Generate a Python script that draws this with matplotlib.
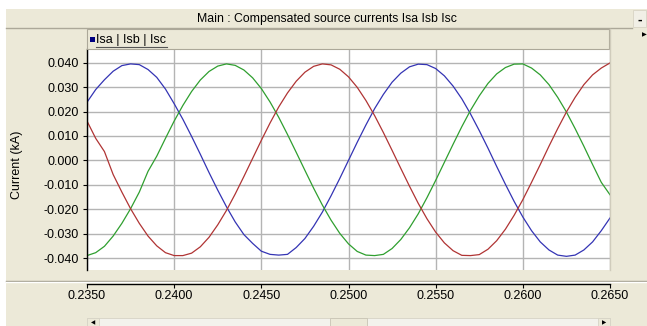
import matplotlib
matplotlib.use("Agg")
import matplotlib.pyplot as plt
from matplotlib.patches import Rectangle
from matplotlib.lines import Line2D

# ---- data ----
time_s = [0.2350, 0.2355, 0.2360, 0.2365, 0.2370, 0.2375, 0.2380, 0.2385, 0.2390, 0.2395,
          0.2400, 0.2405, 0.2410, 0.2415, 0.2420, 0.2425, 0.2430, 0.2435, 0.2440, 0.2445,
          0.2450, 0.2455, 0.2460, 0.2465, 0.2470, 0.2475, 0.2480, 0.2485, 0.2490, 0.2495,
          0.2500, 0.2505, 0.2510, 0.2515, 0.2520, 0.2525, 0.2530, 0.2535, 0.2540, 0.2545,
          0.2550, 0.2555, 0.2560, 0.2565, 0.2570, 0.2575, 0.2580, 0.2585, 0.2590, 0.2595,
          0.2600, 0.2605, 0.2610, 0.2615, 0.2620, 0.2625, 0.2630, 0.2635, 0.2640, 0.2645,
          0.2650]

isa = [0.0238, 0.0290, 0.0330, 0.0365, 0.0388, 0.0395, 0.0392, 0.0372, 0.0340, 0.0292,
       0.0232, 0.0168, 0.0098, 0.0025, -0.0050, -0.0122, -0.0190, -0.0252, -0.0304, -0.0340,
       -0.0372, -0.0385, -0.0388, -0.0385, -0.0357, -0.0320, -0.0270, -0.0212, -0.0145, -0.0074,
       0.0000, 0.0074, 0.0145, 0.0212, 0.0270, 0.0320, 0.0357, 0.0383, 0.0394, 0.0392,
       0.0376, 0.0346, 0.0304, 0.0252, 0.0190, 0.0122, 0.0050, -0.0025, -0.0098, -0.0168,
       -0.0232, -0.0288, -0.0334, -0.0367, -0.0388, -0.0393, -0.0388, -0.0367, -0.0334, -0.0288,
       -0.0236]

isb = [-0.0390, -0.0378, -0.0352, -0.0310, -0.0258, -0.0198, -0.0130, -0.0045, 0.0017, 0.0090,
       0.0161, 0.0225, 0.0282, 0.0329, 0.0364, 0.0386, 0.0395, 0.0389, 0.0370, 0.0338,
       0.0294, 0.0239, 0.0176, 0.0106, 0.0033, -0.0041, -0.0114, -0.0183, -0.0245, -0.0299,
       -0.0342, -0.0373, -0.0388, -0.0390, -0.0385, -0.0361, -0.0324, -0.0276, -0.0219, -0.0153,
       -0.0082, -0.0008, 0.0066, 0.0138, 0.0205, 0.0264, 0.0315, 0.0354, 0.0380, 0.0394,
       0.0395, 0.0378, 0.0350, 0.0310, 0.0258, 0.0198, 0.0130, 0.0058, -0.0017, -0.0090,
       -0.0141]

isc = [0.0161, 0.0090, 0.0036, -0.0058, -0.0130, -0.0198, -0.0258, -0.0310, -0.0350, -0.0378,
       -0.0390, -0.0390, -0.0380, -0.0354, -0.0315, -0.0264, -0.0205, -0.0138, -0.0066, 0.0008,
       0.0082, 0.0153, 0.0219, 0.0276, 0.0324, 0.0361, 0.0385, 0.0395, 0.0391, 0.0373,
       0.0342, 0.0299, 0.0245, 0.0183, 0.0114, 0.0041, -0.0033, -0.0106, -0.0176, -0.0239,
       -0.0294, -0.0338, -0.0370, -0.0389, -0.0390, -0.0386, -0.0364, -0.0329, -0.0282, -0.0225,
       -0.0161, -0.0090, -0.0017, 0.0058, 0.0130, 0.0198, 0.0258, 0.0310, 0.0350, 0.0378,
       0.0399]

x_ticks = [0.2350, 0.2400, 0.2450, 0.2500, 0.2550, 0.2600, 0.2650]
x_ticklabels = ["0.2350", "0.2400", "0.2450", "0.2500", "0.2550", "0.2600", "0.2650"]
y_ticks = [0.040, 0.030, 0.020, 0.010, 0.000, -0.010, -0.020, -0.030, -0.040]
y_ticklabels = ["0.040", "0.030", "0.020", "0.010", "0.000", "-0.010", "-0.020", "-0.030", "-0.040"]

title = "Main : Compensated source currents Isa Isb Isc"
legend_label = "Isa | Isb | Isc"
ylabel = "Current (kA)"

# ---- layout ----
W, H = 647, 326
BEIGE = "#ece9d8"
EDGE = "#aca899"
plt.rcParams['font.family'] = ['Liberation Sans', 'DejaVu Sans']

fig = plt.figure(figsize=(W / 100, H / 100), dpi=100, facecolor=BEIGE)


def fx(x):
    return x / W


def fy(y):
    return 1 - y / H


def rect(x0, y0, x1, y1, **kw):
    r = Rectangle((fx(x0), fy(y1)), fx(x1) - fx(x0), fy(y0) - fy(y1),
                  transform=fig.transFigure, **kw)
    fig.add_artist(r)
    return r


def hline(x0, x1, y, color, lw=1.0):
    fig.add_artist(Line2D([fx(x0), fx(x1)], [fy(y), fy(y)], transform=fig.transFigure,
                          color=color, lw=lw))


def vline(x, y0, y1, color, lw=1.0):
    fig.add_artist(Line2D([fx(x), fx(x)], [fy(y0), fy(y1)], transform=fig.transFigure,
                          color=color, lw=lw))


# white margins (top & left)
rect(0, 0, W, 9, facecolor="white", edgecolor="none")
rect(0, 0, 5.5, H, facecolor="white", edgecolor="none")

# title bar
hline(5.5, 632, 27.5, EDGE, 1.0)
rect(633, 10, 646, 27, facecolor="#f1efe6", edgecolor="#d8d4c4", lw=0.6)
fig.text(fx(640), fy(19.5), "-", ha="center", va="center", fontsize=10,
         fontweight="bold", color="black")
fig.text(fx(327), fy(19), title, ha="center", va="center", fontsize=8.8, color="black")

# legend bar
rect(87, 29, 609, 49, facecolor=BEIGE, edgecolor=EDGE, lw=0.8)
rect(90, 37, 95, 42, facecolor="#000080", edgecolor="none")
fig.text(fx(96.5), fy(40), legend_label, ha="left", va="center", fontsize=9, color="black")
hline(96, 167, 46.5, "#555555", 0.8)

# right arrow marker
fig.text(fx(644), fy(34.5), "\u25b6", ha="center", va="center", fontsize=4.5,
         color="black", family="DejaVu Sans")

# ---- main plot ----
ax = fig.add_axes([fx(87), fy(270), fx(610) - fx(87), fy(49) - fy(270)])
ax.set_facecolor("white")
ax.plot(time_s, isa, color="#3434b4", lw=0.9)
ax.plot(time_s, isb, color="#2f9f2f", lw=0.9)
ax.plot(time_s, isc, color="#b03434", lw=0.9)
ax.set_xlim(0.235, 0.265)
ax.set_ylim(-0.0449, 0.0456)
ax.set_xticks(x_ticks)
ax.set_yticks(y_ticks)
ax.set_yticklabels(y_ticklabels, fontsize=9)
ax.tick_params(axis="x", bottom=False, labelbottom=False)
ax.tick_params(axis="y", direction="out", length=3, width=0.8, pad=3, colors="black")
ax.grid(True, color="#b4b4b4", lw=1.0)
ax.set_axisbelow(True)
for s in ("top", "right", "bottom"):
    ax.spines[s].set_visible(False)
ax.spines["left"].set_color("black")
ax.spines["left"].set_linewidth(1.0)
vline(609.5, 29, 270, "#d0ccbc", 1.0)

fig.text(fx(17), fy(165), ylabel, ha="center", va="center", rotation=90,
         fontsize=9, color="black")

# separator between plot and x-axis
hline(5.5, W, 281, "#a09c8c", 1.0)
hline(5.5, W, 282, "white", 1.0)

# ---- x axis panel ----
ax2 = fig.add_axes([fx(87), fy(283.5), fx(610) - fx(87), 0.0001])
ax2.set_facecolor("none")
ax2.set_xlim(0.235, 0.265)
ax2.set_xticks(x_ticks)
ax2.set_xticklabels(x_ticklabels, fontsize=9)
ax2.set_yticks([])
for s in ("top", "left", "right"):
    ax2.spines[s].set_visible(False)
ax2.spines["bottom"].set_color("black")
ax2.spines["bottom"].set_linewidth(1.0)
ax2.tick_params(axis="x", direction="out", length=3, width=0.8, pad=1.5, colors="black")

# scrollbar
rect(87, 318, 610, 327, facecolor="#f3f2ec", edgecolor="#d6d3c6", lw=0.6)
rect(87, 318, 99, 327, facecolor=BEIGE, edgecolor="#d6d3c6", lw=0.6)
rect(598, 318, 610, 327, facecolor=BEIGE, edgecolor="#d6d3c6", lw=0.6)
rect(330, 318, 367, 327, facecolor=BEIGE, edgecolor="#c8c4b4", lw=0.6)
fig.text(fx(93), fy(322.5), "\u25c0", ha="center", va="center", fontsize=4,
         color="black", family="DejaVu Sans")
fig.text(fx(604), fy(322.5), "\u25b6", ha="center", va="center", fontsize=4,
         color="black", family="DejaVu Sans")

fig.savefig("out.png", dpi=100, facecolor=BEIGE)
